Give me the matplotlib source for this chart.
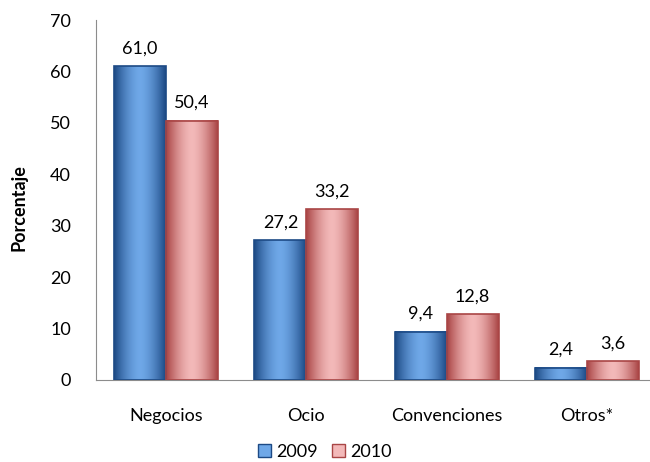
import numpy as np
import matplotlib
matplotlib.use('Agg')
import matplotlib.pyplot as plt
from matplotlib.patches import Rectangle

plt.rcParams['font.family'] = ['Lato', 'DejaVu Sans']

categorias = ['Negocios', 'Ocio', 'Convenciones', 'Otros*']
series = ['2009', '2010']
valores_2009 = [61.0, 27.2, 9.4, 2.4]
valores_2010 = [50.4, 33.2, 12.8, 3.6]
yticks = [0, 10, 20, 30, 40, 50, 60, 70]

# gradient colours (edge, centre)
colores = {'2009': ('#1d4a85', '#6fa8e8'), '2010': ('#a94545', '#f3b9b9')}

W, H = 650, 462
fig = plt.figure(figsize=(6.5, 4.62), dpi=100)
ax = fig.add_axes([96 / W, (H - 380) / H, (657 - 96) / W, 360 / H])

x = np.arange(len(categorias))
ancho = 0.37


def degradado(c1, c2):
    t = np.linspace(-1, 1, 64)
    w = 1 - np.abs(t) ** 1.6
    a = np.array(matplotlib.colors.to_rgb(c1))
    b = np.array(matplotlib.colors.to_rgb(c2))
    return (a[None, :] * (1 - w[:, None]) + b[None, :] * w[:, None])[None, :, :]


def barras(vals, offset, serie):
    c1, c2 = colores[serie]
    img = degradado(c1, c2)
    for xi, v in zip(x, vals):
        x0 = xi + offset - ancho / 2
        ax.imshow(img, extent=(x0, x0 + ancho, 0, v), aspect='auto', zorder=2)
        ax.add_patch(Rectangle((x0, 0), ancho, v, fill=False, edgecolor=c1,
                               linewidth=1.2, zorder=3))
        ax.text(xi + offset, v + 1.9, f'{v:.1f}'.replace('.', ','),
                ha='center', va='bottom', fontsize=13)


barras(valores_2009, -ancho / 2, '2009')
barras(valores_2010, ancho / 2, '2010')

ax.set_xlim(-0.5, len(categorias) - 0.5)
ax.set_ylim(0, 70)
ax.set_yticks(yticks)
ax.set_xticks(x)
ax.set_xticklabels(categorias, fontsize=13)
ax.tick_params(axis='y', length=0, pad=18, labelsize=13)
ax.tick_params(axis='x', length=0, pad=20)
for s in ['top', 'right']:
    ax.spines[s].set_visible(False)
for s in ['left', 'bottom']:
    ax.spines[s].set_color('#8c8c8c')
ax.set_ylabel('Porcentaje', fontsize=13, fontweight='bold')
ax.yaxis.set_label_coords(-0.122, 0.48)

handles = [Rectangle((0, 0), 1, 1, facecolor=colores[s][1], edgecolor=colores[s][0])
           for s in series]
fig.legend(handles, series, loc='center', bbox_to_anchor=(325 / W, 1 - 452 / H),
           ncol=2, frameon=False, fontsize=13, handlelength=0.7, handleheight=0.7,
           handletextpad=0.3, columnspacing=0.8)

fig.savefig('out.png', dpi=100)
